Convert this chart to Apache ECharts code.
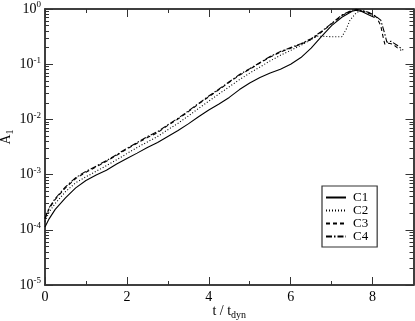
<!DOCTYPE html>
<html>
<head>
<meta charset="utf-8">
<script src="https://cdn.jsdelivr.net/npm/echarts@6/dist/echarts.min.js"></script>
<style>
html,body{margin:0;padding:0;background:#fff;}
#chart{width:415px;height:321px;}
</style>
</head>
<body>
<div id="chart"></div>
<script>
// ---- data ----
const seriesNames = ['C1', 'C2', 'C3', 'C4'];

const tC1 = [0,0.1,0.25,0.5,0.75,1,1.25,1.5,1.75,2,2.25,2.5,2.75,3,3.25,3.5,3.75,4,4.25,4.5,4.75,5,5.25,5.5,5.75,6,6.25,6.5,6.75,7,7.25,7.5,7.6,7.75,7.9,8.05];
const aC1 = [1.12e-4,1.58e-4,2.34e-4,3.8e-4,5.75e-4,7.8e-4,9.8e-4,1.2e-3,1.55e-3,1.95e-3,2.45e-3,3.1e-3,3.8e-3,4.9e-3,6.3e-3,8.3e-3,1.12e-2,1.48e-2,1.9e-2,2.5e-2,3.47e-2,4.57e-2,5.75e-2,6.9e-2,8.1e-2,0.1,0.132,0.195,0.316,0.5,0.71,0.91,0.95,0.89,0.79,0.7];

const tC2 = [0,0.1,0.25,0.5,0.75,1,1.25,1.5,1.75,2,2.25,2.5,2.75,3,3.25,3.5,3.75,4,4.25,4.5,4.75,5,5.25,5.5,5.75,6,6.25,6.5,6.65,6.8,7.0,7.25,7.35,7.45,7.6,7.72,7.85,7.95];
const aC2 = [1.41e-4,2.1e-4,3.0e-4,4.9e-4,7.1e-4,9.1e-4,1.15e-3,1.45e-3,1.86e-3,2.4e-3,3.1e-3,3.9e-3,4.9e-3,6.5e-3,8.5e-3,1.15e-2,1.58e-2,2.14e-2,2.9e-2,3.9e-2,5.25e-2,6.9e-2,8.9e-2,0.115,0.145,0.178,0.22,0.28,0.32,0.32,0.315,0.315,0.42,0.63,0.85,0.95,0.89,0.79];

const tC3 = [0,0.1,0.25,0.5,0.75,1,1.25,1.5,1.75,2,2.25,2.5,2.75,3,3.25,3.5,3.75,4,4.25,4.5,4.75,5,5.25,5.5,5.75,6,6.25,6.5,6.75,7,7.25,7.5,7.6,7.75,7.9,8,8.1,8.2,8.25,8.3,8.4,8.5,8.6,8.7];
const aC3 = [1.58e-4,2.4e-4,3.55e-4,5.75e-4,8.5e-4,1.1e-3,1.38e-3,1.74e-3,2.24e-3,2.9e-3,3.7e-3,4.7e-3,5.75e-3,7.8e-3,1.02e-2,1.38e-2,1.9e-2,2.57e-2,3.47e-2,4.7e-2,6.3e-2,8.1e-2,0.105,0.135,0.166,0.195,0.23,0.28,0.38,0.54,0.76,0.93,0.98,0.91,0.85,0.79,0.71,0.5,0.33,0.23,0.24,0.23,0.2,0.178];

const tC4 = [0,0.1,0.25,0.5,0.75,1,1.25,1.5,1.75,2,2.25,2.5,2.75,3,3.25,3.5,3.75,4,4.25,4.5,4.75,5,5.25,5.5,5.75,6,6.25,6.5,6.75,7,7.25,7.5,7.6,7.75,7.9,8,8.1,8.2,8.3,8.35,8.45,8.6,8.75];
const aC4 = [1.62e-4,2.5e-4,3.7e-4,6.0e-4,8.8e-4,1.15e-3,1.42e-3,1.8e-3,2.3e-3,3.0e-3,3.8e-3,4.9e-3,6.0e-3,8.0e-3,1.05e-2,1.42e-2,1.95e-2,2.65e-2,3.55e-2,4.8e-2,6.5e-2,8.3e-2,0.107,0.138,0.17,0.2,0.235,0.29,0.39,0.55,0.78,0.95,0.99,0.93,0.87,0.8,0.72,0.63,0.35,0.25,0.26,0.22,0.18];

const xMajorTicks = [0, 2, 4, 6, 8];
const xMinorTicks = [1, 3, 5, 7];
const yMajorTicks = [1e-5, 1e-4, 1e-3, 1e-2, 1e-1, 1];
const yMinorTicks = [2e-5,3e-5,4e-5,5e-5,6e-5,7e-5,8e-5,9e-5,
                     2e-4,3e-4,4e-4,5e-4,6e-4,7e-4,8e-4,9e-4,
                     2e-3,3e-3,4e-3,5e-3,6e-3,7e-3,8e-3,9e-3,
                     2e-2,3e-2,4e-2,5e-2,6e-2,7e-2,8e-2,9e-2,
                     0.2,0.3,0.4,0.5,0.6,0.7,0.8,0.9];

// ---- chart ----
const FONT = 'Liberation Serif';
const AX = {color: '#333', width: 1.5};
function zip(t, a) {
  const n = Math.min(t.length, a.length);
  const out = [];
  for (let i = 0; i < n; i++) out.push([t[i], a[i]]);
  return out;
}
const seriesData = [zip(tC1, aC1), zip(tC2, aC2), zip(tC3, aC3), zip(tC4, aC4)];
const dashes = ['solid', [1, 2], [4, 3], [6, 2, 1.5, 2]];

function xAx(pos, major, withLabel) {
  return {
    type: 'value', position: pos, min: 0, max: 9,
    axisLine: {show: true, onZero: false, lineStyle: AX},
    axisTick: {show: true, inside: true, length: major ? 8 : 4,
               lineStyle: {color: '#333', width: 1},
               customValues: major ? xMajorTicks : xMinorTicks},
    axisLabel: withLabel ? {show: true, customValues: xMajorTicks, margin: 5,
               fontFamily: FONT, fontSize: 14, color: '#000'} : {show: false},
    splitLine: {show: false}
  };
}
function yAx(pos, major, withLabel) {
  return {
    type: 'log', logBase: 10, position: pos, min: 1e-5, max: 1,
    axisLine: {show: true, onZero: false, lineStyle: AX},
    axisTick: {show: true, inside: true, length: major ? 8 : 4,
               lineStyle: {color: '#333', width: 1},
               customValues: major ? yMajorTicks : yMinorTicks},
    axisLabel: withLabel ? {
      show: true, customValues: yMajorTicks, margin: 4,
      formatter: function (v) {
        const e = Math.round(Math.log10(v));
        return '{b|10}{s|' + e + '}';
      },
      rich: {
        b: {fontFamily: FONT, fontSize: 14, color: '#000'},
        s: {fontFamily: FONT, fontSize: 9, color: '#000', padding: [0, 0, 8, 0]}
      }
    } : {show: false},
    minorTick: {show: false},
    splitLine: {show: false}
  };
}

const xAxes = [xAx('bottom', true, true), xAx('bottom', false, false), xAx('top', true, false), xAx('top', false, false)];
xAxes[0].name = 't / t{sub|dyn}';
xAxes[0].nameLocation = 'middle';
xAxes[0].nameGap = 17;
xAxes[0].nameMoveOverlap = false;
xAxes[0].nameTextStyle = {
  fontFamily: FONT, fontSize: 14, color: '#000',
  rich: {sub: {fontFamily: FONT, fontSize: 10, color: '#000', padding: [8, 0, 0, 0]}}
};
const yAxes = [yAx('left', true, true), yAx('left', false, false), yAx('right', true, false), yAx('right', false, false)];
yAxes[0].name = 'A{sub|1}';
yAxes[0].nameLocation = 'middle';
yAxes[0].nameGap = 30;
yAxes[0].nameRotate = 90;
yAxes[0].nameMoveOverlap = false;
yAxes[0].nameTextStyle = {
  fontFamily: FONT, fontSize: 14, color: '#000', padding: [0, 0, 0, 20],
  rich: {sub: {fontFamily: FONT, fontSize: 10, color: '#000', padding: [8, 0, 0, 0]}}
};

const option = {
  animation: false,
  backgroundColor: '#fff',
  grid: {left: 45, right: 1.5, top: 9, bottom: 36, containLabel: false, outerBoundsMode: 'none'},
  xAxis: xAxes,
  yAxis: yAxes,
  legend: {
    orient: 'vertical', left: 322, top: 186,
    data: seriesNames,
    borderColor: '#333', borderWidth: 1.2, borderRadius: 0,
    padding: [5, 9, 4, 3],
    itemWidth: 20, itemHeight: 12, itemGap: 0,
    itemStyle: {opacity: 0},
    textStyle: {fontFamily: FONT, fontSize: 13, color: '#000', lineHeight: 12, padding: [0, 0, 0, 2]}
  },
  series: seriesNames.map(function (name, i) {
    return {
      name: name, type: 'line', xAxisIndex: 0, yAxisIndex: 0,
      data: seriesData[i], symbol: 'none', smooth: false,
      lineStyle: {color: '#000', width: 1.1, type: dashes[i]},
      itemStyle: {color: '#000'}
    };
  })
};
const chart = echarts.init(document.getElementById('chart'), null, {renderer: 'canvas'});
chart.setOption(option);
</script>
</body>
</html>
